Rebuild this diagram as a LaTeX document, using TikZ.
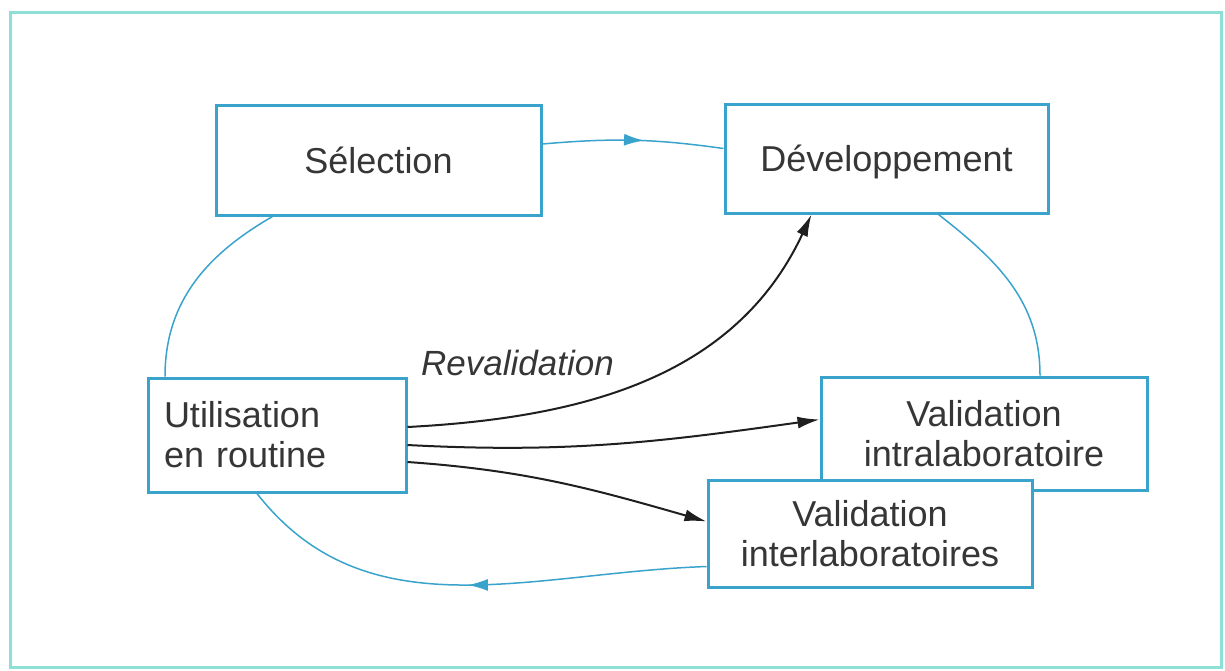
\documentclass[tikz,border=0pt]{standalone}
\usepackage{fontspec}
\setmainfont{Liberation Sans}
\usetikzlibrary{arrows.meta,decorations.markings}
\definecolor{boxblue}{HTML}{3AA3CC}
\definecolor{framecol}{HTML}{8EE0D6}
\definecolor{txt}{HTML}{363636}
\tikzset{
  stage/.style={draw=boxblue, line width=3pt, fill=white, text=txt, align=center,
    font=\fontsize{36}{40}\selectfont},
  oneline/.style={text height=26pt, text depth=0pt},
  cyc/.style={draw=boxblue, line width=1.5pt},
  midarrow/.style={postaction={decorate}, decoration={markings,
    mark=at position #1 with {\arrow[boxblue]{Latex[length=20pt,width=12pt]}}}},
  blk/.style={draw=black!88, line width=2pt, -{Latex[length=22pt,width=12pt]}},
}
\begin{document}
\begin{tikzpicture}[x=1pt,y=-1pt]
\useasboundingbox (0,0) rectangle (1225,670);
\node[draw=framecol, line width=3pt, minimum width=1211pt, minimum height=655pt] (frame) at (616,340) {};
\node[stage, oneline, minimum width=325pt, minimum height=110pt] (sel) at (378.5,160) {Sélection};
\node[stage, oneline, minimum width=323pt, minimum height=109pt] (dev) at (886.5,158.5) {Développement};
\node[stage, minimum width=258pt, minimum height=114pt, text width=226pt, align=left, inner xsep=16pt] (util) at (277,435) {Utilisation\\en routine};
\node[stage, minimum width=326pt, minimum height=113pt] (intra) at (984,433.5) {Validation\\intralaboratoire};
\draw[cyc] ([xshift=52pt]dev.south) to[out=-38,in=90] ([xshift=56pt]intra.north);
\draw[cyc] ([xshift=-112pt]util.north) to[out=90,in=-150] ([xshift=-106pt]sel.south);
\draw[cyc, midarrow=0.56] ([yshift=16pt]sel.east) to[out=5,in=172] ([yshift=10pt]dev.west);
\node[stage, minimum width=324pt, minimum height=107pt] (inter) at (870,533.5) {Validation\\interlaboratoires};
\draw[cyc, midarrow=0.5] ([yshift=-33pt]inter.west) to[out=182,in=-52] ([xshift=-20pt]util.south);
\draw[blk] ([yshift=8pt]util.east) to[out=3,in=-115] ([xshift=-75pt]dev.south);
\draw[blk] ([yshift=-10pt]util.east) to[out=-3,in=188] ([yshift=14pt]intra.west);
\draw[blk] ([yshift=-27pt]util.east) to[out=-4,in=164] ([yshift=12pt]inter.west);
\node[text=txt, font=\fontsize{35}{40}\selectfont\itshape, anchor=base west, inner sep=0pt] (reval) at (421,375) {Revalidation};
\end{tikzpicture}
\end{document}
